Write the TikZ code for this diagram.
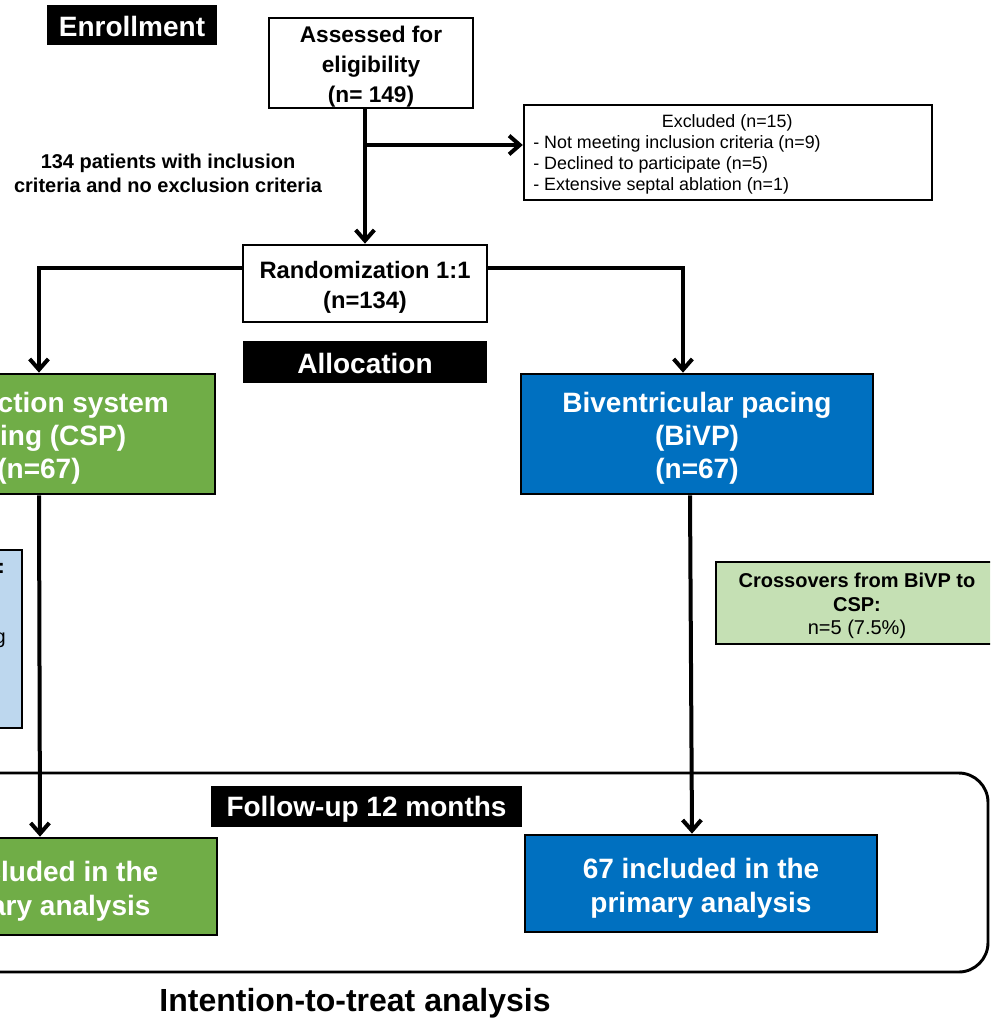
\documentclass[tikz,border=0pt]{standalone}
\usepackage{fontspec}
\setmainfont{Liberation Sans}
\usetikzlibrary{arrows.meta,calc}
\definecolor{cspgreen}{HTML}{70AD47}
\definecolor{bivblue}{HTML}{0070C0}
\definecolor{paleblue}{HTML}{BDD7EE}
\definecolor{palegreen}{HTML}{C5E0B4}
\newcommand\myfs[2]{\fontsize{#1}{#2}\selectfont}
\tikzset{
  box/.style={draw=black, line width=2pt, inner sep=0pt, align=center},
  blk/.style={fill=black, inner sep=0pt},
  blktxt/.style={text=white, inner sep=0pt, font=\bfseries\myfs{21}{25}},
  tx/.style={inner sep=0pt, align=center},
  conn/.style={line width=3pt, -{Straight Barb[length=8pt,width=14pt]}},
}
\begin{document}
\begin{tikzpicture}[x=0.75pt,y=-0.75pt]
\useasboundingbox (0,0) rectangle (990,1018);
\clip (0,0) rectangle (990,1018);
\fill[white] (0,0) rectangle (990,1018);

% follow-up frame
\draw[line width=2.2pt, rounded corners=22pt] (-300,773) rectangle (988,972);

% enrollment
\node[blk, minimum width=127.5pt, minimum height=30pt] (enroll) at (132,25) {};
\node[blktxt] (enrollt) at ($(enroll)+(0,1)$) {Enrollment};

% assessed
\node[box, minimum width=153pt, minimum height=67.5pt] (assess) at (371,63) {};
\node[tx, font=\bfseries\myfs{17}{22.5}] (assesst) at ($(assess)+(0,4)$) {Assessed for\\eligibility\\(n= 149)};

% excluded
\node[box, line width=1.8pt, minimum width=306pt, minimum height=71.25pt] (excl) at (728,152.5) {};
\node[anchor=west, align=left, inner sep=0pt, font=\myfs{13.4}{15.75}] (excltext) at (533,154.5) {\hspace*{96.5pt}Excluded (n=15)\\- Not meeting inclusion criteria (n=9)\\- Declined to participate (n=5)\\- Extensive septal ablation (n=1)};

\node[tx, font=\bfseries\myfs{15}{18}] (lbl) at (168,173.5) {134 patients with inclusion\\criteria and no exclusion criteria};

% randomization
\node[box, minimum width=183pt, minimum height=57.75pt] (rand) at (365,283.5) {};
\node[tx, font=\bfseries\myfs{17.8}{22.5}] (randt) at ($(rand)+(0,4)$) {Randomization 1:1\\(n=134)};

\node[blk, minimum width=183pt, minimum height=31.5pt] (alloc) at (365,362) {};
\node[blktxt] (alloct) at ($(alloc)+(0,1)$) {Allocation};

% arms
\node[box, fill=cspgreen, minimum width=264pt, minimum height=90pt] (csp) at (39,434) {};
\node[tx, text=white, font=\bfseries\myfs{21}{24.75}] (cspt) at ($(csp)+(0,4.5)$) {Conduction system\\pacing (CSP)\\(n=67)};
\node[box, fill=bivblue, minimum width=264pt, minimum height=90pt] (bivp) at (697,434) {};
\node[tx, text=white, font=\bfseries\myfs{21}{24.75}] (bivpt) at ($(bivp)+(0,4.5)$) {Biventricular pacing\\(BiVP)\\(n=67)};

% crossovers
\node[box, fill=paleblue, minimum width=180pt, minimum height=133.5pt] (lb) at (-98,639) {};
\node[anchor=base east, inner sep=0pt, font=\bfseries\myfs{15}{18}] (lbt1) at (5,573) {Crossovers from CSP to BiVP:};
\node[anchor=base east, inner sep=0pt, font=\myfs{15}{18}] (lbt2) at (6,643) {- Conduction system pacing};

\node[box, fill=palegreen, minimum width=211.5pt, minimum height=61.5pt] (cross) at (857,603) {};
\node[tx, font=\myfs{15}{17.8}] (crosst) at ($(cross)+(0,3)$) {\textbf{Crossovers from BiVP to}\\\textbf{CSP:}\\n=5 (7.5\%)};

% follow-up
\node[blk, minimum width=233.25pt, minimum height=30.75pt] (follow) at (366.5,806.5) {};
\node[blktxt] (followt) at ($(follow)+(0,2.5)$) {Follow-up 12 months};
\node[box, fill=cspgreen, minimum width=265.5pt, minimum height=72.75pt] (csp2) at (40,886.5) {};
\node[tx, text=white, font=\bfseries\myfs{21}{25.5}] (csp2t) at ($(csp2)+(0,4.5)$) {67 included in the\\primary analysis};
\node[box, fill=bivblue, minimum width=264pt, minimum height=72.75pt] (bivp2) at (701,883.5) {};
\node[tx, text=white, font=\bfseries\myfs{21}{25.5}] (bivp2t) at ($(bivp2)+(0,4.5)$) {67 included in the\\primary analysis};

\node[inner sep=0pt, font=\bfseries\myfs{24}{28}] (itt) at (355,1003) {Intention-to-treat analysis};

% connectors
\draw[conn] (rand.north |- assess.south) -- (rand.north);
\coordinate (brk) at (364,145);
\draw[conn] (brk) -- (brk -| excl.west);
\draw[conn] ($(rand.north west)!0.3!(rand.south west)$) -| (csp.north);
\draw[conn] ($(rand.north east)!0.3!(rand.south east)$) -| ($(bivp.north)+(-14,0)$);
\draw[conn] (csp.south) -- (csp2.north);
\draw[conn] ($(bivp.south)+(-7,0)$) -- ($(bivp2.north)+(-9,0)$);
\end{tikzpicture}
\end{document}
